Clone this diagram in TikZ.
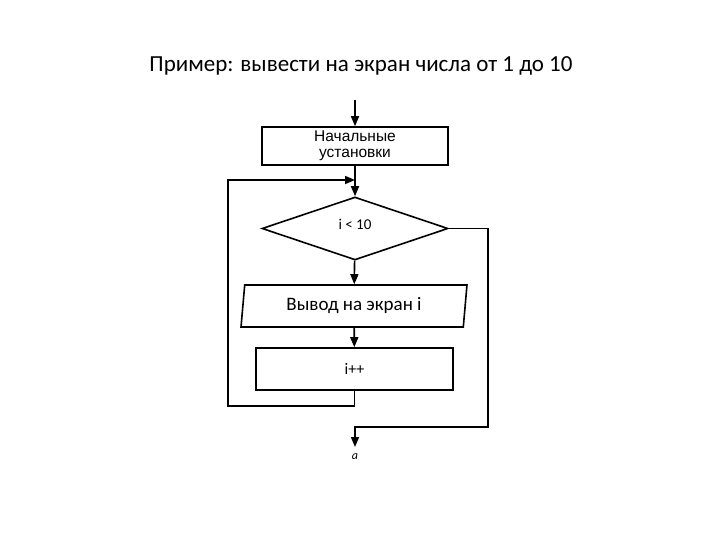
\documentclass[tikz,border=0pt]{standalone}
\usepackage{fontspec}
\setmainfont{Carlito}
\newfontfamily\arialfont{Liberation Sans}
\usetikzlibrary{shapes.geometric,arrows.meta}
\begin{document}
\begin{tikzpicture}[x=1pt,y=-1pt,line width=1.6pt,
    >={Triangle[length=10pt,width=8pt]},
    block/.style={draw,rectangle,inner sep=0pt},
    decision/.style={draw,diamond,inner sep=0pt,minimum width=186pt,minimum height=63pt},
    io/.style={draw,trapezium,trapezium left angle=82,trapezium right angle=98,
        trapezium stretches=true,inner sep=0pt,minimum width=226pt,minimum height=42pt}]
    \useasboundingbox (0,0) rectangle (720,540);
    \node [font=\fontsize{23}{27}\selectfont] (title) at (361,66) {Пример: вывести на экран числа от 1 до 10};
    \coordinate (start) at (355,100);
    \node [block,minimum width=186pt,minimum height=38pt,align=center,
        font=\arialfont\fontsize{15.5}{16}\selectfont] (init) at (355,146) {Начальные\\установки};
    \coordinate (join) at (355,180);
    \node [decision,font=\fontsize{15}{18}\selectfont] (cond) at (355,228.5) {\raisebox{8pt}{i < 10}};
    \node [io,font=\fontsize{19}{22}\selectfont] (out) at (354,306) {Вывод на экран i};
    \node [block,minimum width=197pt,minimum height=42pt,font=\fontsize{16}{19}\selectfont] (inc) at (354.5,369) {i++};
    \coordinate (merge) at (355,427);
    \coordinate (exit) at (355,447);
    \node [font=\fontsize{12}{12}\selectfont\itshape] (end) at (355,457) {a};
    \draw [->] (start) -- (init);
    \draw (init) -- (join);
    \draw [->] (join) -- (cond);
    \draw [->] (cond) -- (out);
    \draw [->] (out) -- (inc);
    \draw [->] (inc.south) -- ++(0,15) -| ([xshift=-127pt]join) -- (join);
    \draw [->] (cond.east) -- ++(39,0) |- (merge) -- (exit);
\end{tikzpicture}
\end{document}
